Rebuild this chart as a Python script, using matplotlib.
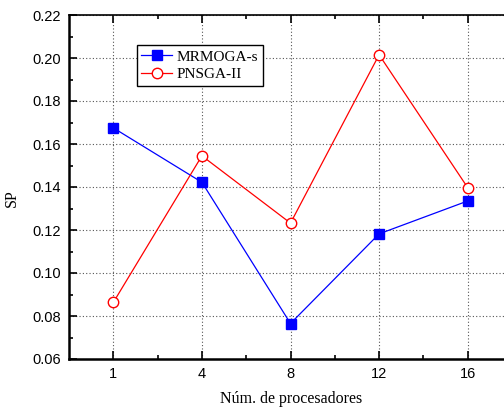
import matplotlib
matplotlib.use("Agg")
import matplotlib.pyplot as plt
from matplotlib.ticker import MultipleLocator, FixedLocator, FormatStrFormatter

categories = ["1", "4", "8", "12", "16"]
mrmoga_s = [0.1675, 0.1422, 0.0765, 0.1182, 0.1335]
pnsga_ii = [0.0863, 0.1545, 0.1232, 0.2015, 0.1397]

fig = plt.figure(figsize=(5.04, 4.13), dpi=100)
ax = fig.add_axes([69 / 504, 1 - 359 / 413, (512 - 69) / 504, (359 - 15) / 413])

x = list(range(len(categories)))
ax.plot(x, mrmoga_s, color="blue", lw=0.9, marker="s", ms=7,
        mfc="blue", mec="blue", label="MRMOGA-s", zorder=3)
ax.plot(x, pnsga_ii, color="red", lw=0.9, marker="o", ms=7.5,
        mfc="white", mec="red", mew=1.0, label="PNSGA-II", zorder=3)

ax.set_xlim(-0.5, 4.5)
ax.set_ylim(0.06, 0.22)
ax.set_xticks(x)
ax.set_xticklabels(categories)
ax.xaxis.set_minor_locator(FixedLocator([0.5, 1.5, 2.5, 3.5]))
ax.yaxis.set_major_locator(MultipleLocator(0.02))
ax.yaxis.set_minor_locator(MultipleLocator(0.01))
ax.yaxis.set_major_formatter(FormatStrFormatter("%.2f"))

ax.grid(True, which="major", color="#555555", linestyle=(0, (1, 2)), linewidth=0.8)
ax.tick_params(which="both", direction="in", top=True, right=False,
               labelsize=10.5, pad=6, width=1.2)
ax.tick_params(which="major", length=6)
ax.tick_params(which="minor", length=3)
for lab in ax.get_xticklabels() + ax.get_yticklabels():
    lab.set_fontfamily("Liberation Sans")

for side in ("left", "bottom"):
    ax.spines[side].set_linewidth(1.8)
ax.spines["top"].set_linewidth(1.2)
ax.spines["right"].set_visible(False)

ax.set_xlabel("Núm. de procesadores", fontfamily="Liberation Serif", fontsize=11.5)
ax.xaxis.set_label_coords(0.501, -0.094)
ax.set_ylabel("SP", fontfamily="Liberation Serif", fontsize=11.5)
ax.yaxis.set_label_coords(-0.111, 0.468)

leg = ax.legend(loc="upper left", bbox_to_anchor=(0.153, 0.912),
                prop={"family": "Liberation Serif", "size": 11},
                frameon=True, fancybox=False, edgecolor="black",
                framealpha=1, handlelength=2.0, borderpad=0.3,
                labelspacing=0.25, handletextpad=0.3, borderaxespad=0)
leg.get_frame().set_linewidth(1.0)

fig.savefig("out.png", dpi=100)
